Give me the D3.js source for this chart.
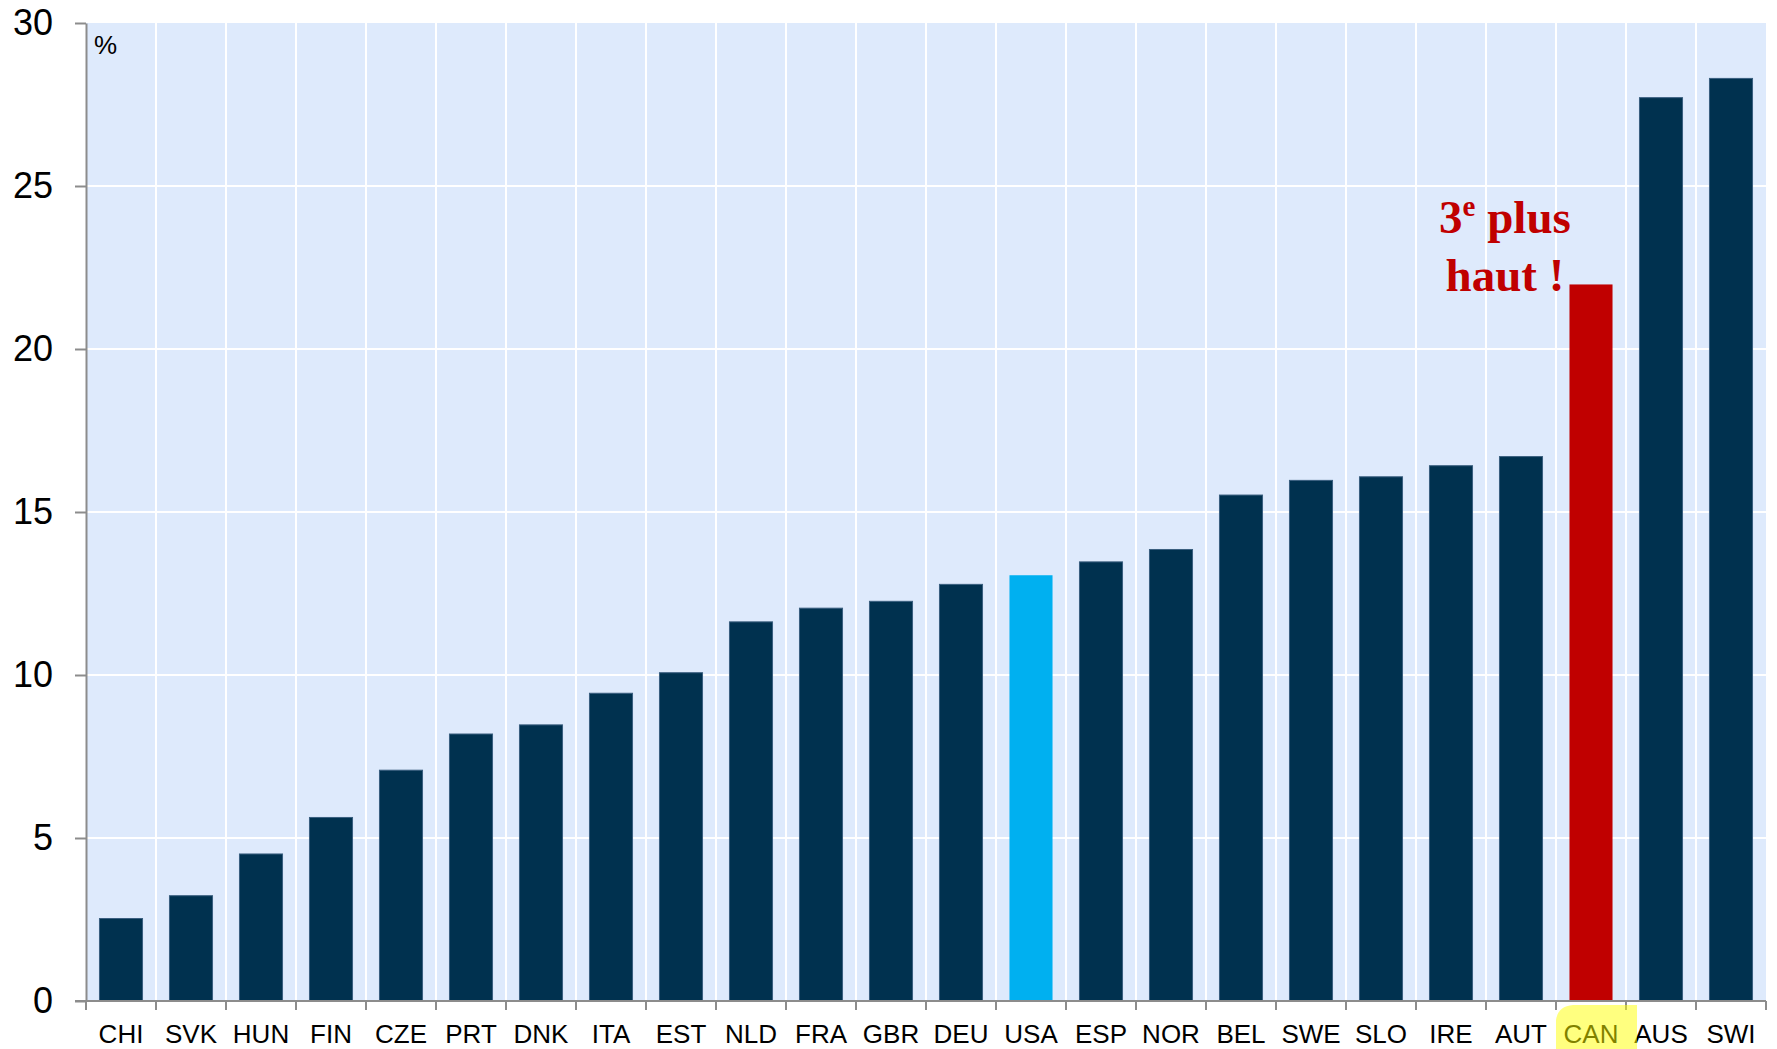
<!DOCTYPE html>
<meta charset="utf-8">
<style>
body {
  margin: 0;
  background: #fff;
  font-family: "Liberation Sans", Arial, Helvetica, sans-serif;
}
.grid line {
  stroke: #fff;
  stroke-width: 2;
}
.axis path, .axis line {
  stroke: #8c8c8c;
  stroke-width: 2;
}
</style>
<svg width="1777" height="1049"></svg>
<script src="https://cdn.jsdelivr.net/npm/d3@7/dist/d3.min.js"></script>
<script>

var countries = ["CHI", "SVK", "HUN", "FIN", "CZE", "PRT", "DNK", "ITA", "EST", "NLD", "FRA", "GBR",
  "DEU", "USA", "ESP", "NOR", "BEL", "SWE", "SLO", "IRE", "AUT", "CAN", "AUS", "SWI"];
var values = [2.53, 3.23, 4.51, 5.63, 7.08, 8.19, 8.47, 9.44, 10.07, 11.63, 12.05, 12.26,
  12.78, 13.06, 13.47, 13.85, 15.52, 15.97, 16.08, 16.42, 16.70, 21.98, 27.71, 28.30];
var yTicks = [0, 5, 10, 15, 20, 25, 30];
var highlight = {USA: "#00b0f0", CAN: "#c00000"};

var svg = d3.select("svg");
var plotL = 86, plotR = 1766, plotT = 23, plotB = 1001;

var x = d3.scaleBand()
    .domain(countries)
    .range([plotL, plotR])
    .paddingInner(0.385)
    .paddingOuter(0.1925);
var step = x.step();

var y = d3.scaleLinear()
    .domain([0, 30])
    .range([plotB, plotT]);

// plot background
svg.append("rect")
    .attr("x", plotL)
    .attr("y", plotT)
    .attr("width", plotR - plotL)
    .attr("height", plotB - plotT)
    .attr("fill", "#deeafc");

// grid: horizontal at ticks, vertical at category boundaries
var grid = svg.append("g").attr("class", "grid");
grid.selectAll(".h")
  .data(yTicks.filter(function(d){ return d > 0 && d < 30; }))
  .enter().append("line")
    .attr("x1", plotL).attr("x2", plotR)
    .attr("y1", function(d){ return y(d); })
    .attr("y2", function(d){ return y(d); });
grid.selectAll(".v")
  .data(countries.slice(1))
  .enter().append("line")
    .attr("x1", function(d){ return x(d) - step * x.paddingInner() / 2; })
    .attr("x2", function(d){ return x(d) - step * x.paddingInner() / 2; })
    .attr("y1", plotT).attr("y2", plotB);

// bars
svg.selectAll(".bar")
  .data(countries)
  .enter().append("rect")
    .attr("class", "bar")
    .attr("x", function(d){ return x(d); })
    .attr("width", x.bandwidth())
    .attr("y", function(d, i){ return y(values[i]); })
    .attr("height", function(d, i){ return y(0) - y(values[i]); })
    .attr("fill", function(d){ return highlight[d] || "#00314f"; })
    .attr("stroke", function(d){ return highlight[d] ? "none" : "#3a5f7f"; })
    .attr("stroke-width", 1);

// y axis
var yAxis = svg.append("g")
    .attr("class", "axis")
    .attr("transform", "translate(" + plotL + ",0)")
    .call(d3.axisLeft(y).tickValues(yTicks).tickSize(11).tickSizeOuter(0).tickPadding(22));
yAxis.selectAll("text")
    .attr("font-size", 36)
    .attr("font-family", "Liberation Sans, Arial, sans-serif")
    .attr("fill", "#000");

// x axis with ticks at band boundaries
var xAxis = svg.append("g").attr("class", "axis");
xAxis.append("line")
    .attr("x1", plotL - 11).attr("x2", plotR)
    .attr("y1", plotB).attr("y2", plotB);
xAxis.selectAll(".tick")
  .data(d3.range(countries.length + 1))
  .enter().append("line")
    .attr("x1", function(i){ return plotL + i * step; })
    .attr("x2", function(i){ return plotL + i * step; })
    .attr("y1", plotB).attr("y2", plotB + 9);

svg.selectAll(".xlabel")
  .data(countries)
  .enter().append("text")
    .attr("x", function(d){ return x(d) + x.bandwidth() / 2; })
    .attr("y", 1043)
    .attr("text-anchor", "middle")
    .attr("font-size", 26)
    .attr("fill", "#000")
    .text(function(d){ return d; });

// CAN highlighter mark
var cx = x("CAN") + x.bandwidth() / 2;
svg.append("path")
    .attr("d", "M" + (cx - 35) + ",1049 L" + (cx - 35) + ",1020 Q" + (cx - 33) + ",1006 " + (cx - 18) + ",1005 L" + (cx + 46) + ",1005 L" + (cx + 46) + ",1049 Z")
    .attr("fill", "#ffff00")
    .attr("fill-opacity", 0.5);

// unit label
svg.append("text")
    .attr("x", 94)
    .attr("y", 54)
    .attr("font-size", 26)
    .attr("fill", "#000")
    .text("%");

// annotation
var note = svg.append("text")
    .attr("font-family", "Liberation Serif, Times New Roman, serif")
    .attr("font-weight", "bold")
    .attr("font-size", 47)
    .attr("fill", "#c00000")
    .attr("text-anchor", "middle");
var l1 = note.append("tspan").attr("x", 1505).attr("y", 233);
l1.append("tspan").text("3");
l1.append("tspan").attr("font-size", 29).attr("dy", -17).text("e");
l1.append("tspan").attr("dy", 17).text(" plus");
note.append("tspan").attr("x", 1505).attr("y", 291).text("haut !");

</script>
